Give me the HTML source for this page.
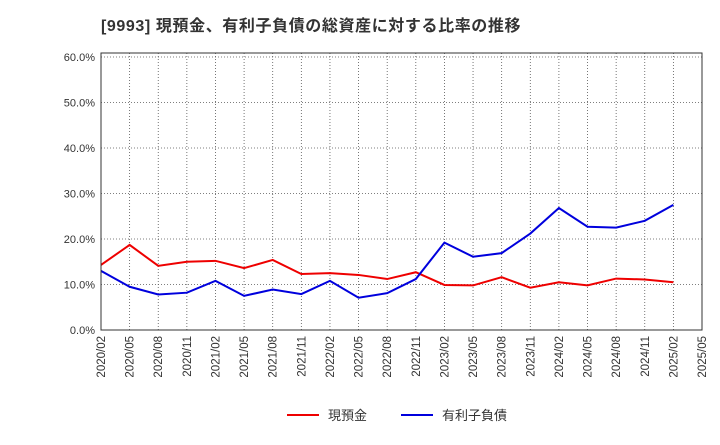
<!DOCTYPE html>
<html><head><meta charset="utf-8"><style>
body{margin:0;background:#fff;font-family:"Liberation Sans","Noto Sans CJK JP",sans-serif;}
</style></head><body>
<svg width="720" height="440" xmlns="http://www.w3.org/2000/svg" font-family="Liberation Sans, Noto Sans CJK JP, sans-serif">
<text x="101" y="31" font-size="16" font-weight="bold" fill="#333" letter-spacing="0.6">[9993]  現預金、有利子負債の総資産に対する比率の推移</text>
<g id="grid"></g>
<g id="yaxis"></g>
<g id="xaxis"></g>
<g id="series"></g>
<rect x="101" y="53" width="601" height="277" fill="none" stroke="#333"/>
<g>
<line x1="287" y1="415" x2="319" y2="415" stroke="#e00" stroke-width="2"/>
<text x="328" y="420" font-size="13" fill="#333">現預金</text>
<line x1="401" y1="415" x2="433" y2="415" stroke="#00d" stroke-width="2"/>
<text x="442" y="420" font-size="13" fill="#333">有利子負債</text>
</g>
</svg>
<script>
const categories=["2020/02","2020/05","2020/08","2020/11","2021/02","2021/05","2021/08","2021/11","2022/02","2022/05","2022/08","2022/11","2023/02","2023/05","2023/08","2023/11","2024/02","2024/05","2024/08","2024/11","2025/02","2025/05"];
const cashValues=[14.3,18.7,14.1,15.0,15.2,13.6,15.4,12.3,12.5,12.1,11.2,12.7,9.9,9.8,11.6,9.3,10.5,9.8,11.3,11.1,10.5];
const debtValues=[13.0,9.5,7.8,8.2,10.8,7.5,8.9,7.9,10.8,7.1,8.1,11.2,19.2,16.1,16.9,21.2,26.8,22.7,22.5,24.0,27.5];
const yTicks=[0,10,20,30,40,50,60];
const NS="http://www.w3.org/2000/svg";
const X0=101,X1=702,Y0=330,Y1=57;
function xs(i){return X0+(X1-X0)*i/(categories.length-1);}
function ys(v){return Y0-(Y0-Y1)*v/60;}
function mk(tag,attrs,parent){const e=document.createElementNS(NS,tag);for(const k in attrs)e.setAttribute(k,attrs[k]);parent.appendChild(e);return e;}
const grid=document.getElementById('grid'),ya=document.getElementById('yaxis'),xa=document.getElementById('xaxis'),ser=document.getElementById('series');
yTicks.forEach(t=>{
 const l=mk('line',{x1:X0,x2:X1,y1:ys(t),y2:ys(t),stroke:'#555','stroke-dasharray':'1,2','stroke-width':0.8},grid);
 
 
 const tx=mk('text',{x:X0-6,y:ys(t)+4,'text-anchor':'end','font-size':11,fill:'#333'},ya);
 tx.textContent=t.toFixed(1)+'%';
 
 
});
categories.forEach((c,i)=>{
 const l=mk('line',{x1:xs(i),x2:xs(i),y1:53,y2:Y0,stroke:'#555','stroke-dasharray':'1,2','stroke-width':0.8},grid);
 
 
 const x=xs(i)+4,y=Y0+6;
 const tx=mk('text',{x:x,y:y,'text-anchor':'end','font-size':11.5,fill:'#333',transform:`rotate(-90 ${x} ${y})`},xa);
 tx.textContent=c;
 
 
});
function line(vals,color,name){
 const p=mk('polyline',{points:vals.map((v,i)=>xs(i)+','+ys(v)).join(' '),fill:'none',stroke:color,'stroke-width':2},ser);
 
 
}
line(cashValues,'#e00','cash-line');
line(debtValues,'#00d','debt-line');
</script>
</body></html>
